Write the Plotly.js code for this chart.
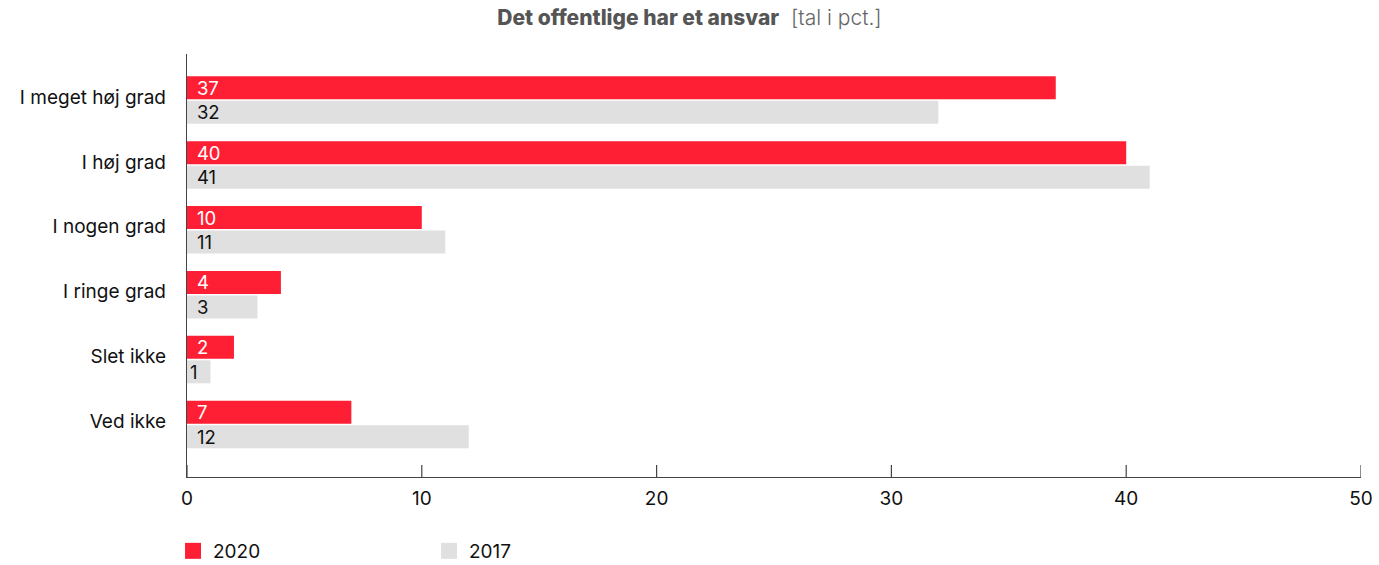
<!DOCTYPE html>
<html>
<head>
<meta charset="utf-8">
<script src="https://cdn.plot.ly/plotly-3.0.1.min.js"></script>
<style>html,body{margin:0;padding:0;background:#fff;}#chart{width:1379px;height:565px;}</style>
</head>
<body>
<div id="chart"></div>
<script>
const categories = ["I meget høj grad", "I høj grad", "I nogen grad", "I ringe grad", "Slet ikke", "Ved ikke"];
const values2020 = [37, 40, 10, 4, 2, 7];
const values2017 = [32, 41, 11, 3, 1, 12];
const seriesNames = ["2020", "2017"];
const xTicks = [0, 10, 20, 30, 40, 50];

const FONT = "Inter, 'Open Sans', sans-serif";
const RED = "#FF1F35";
const GREY = "#E0E0E0";
const PAD = "\u00A0\u200A";

const traces = [
  {
    type: "bar", orientation: "h", name: seriesNames[0], showlegend: false,
    y: categories, x: values2020, text: values2020.map(v => PAD + v),
    textposition: "inside", insidetextanchor: "start", constraintext: "none", textangle: 0,
    textfont: {family: FONT, size: 18.5, color: "#ffffff"},
    marker: {color: RED}, hoverinfo: "x+name"
  },
  {
    type: "bar", orientation: "h", name: seriesNames[1], showlegend: false,
    y: categories, x: values2017, text: values2017.map(v => (v < 2 ? "" : PAD) + v),
    textposition: "inside", insidetextanchor: "start", constraintext: "none", textangle: 0,
    textfont: {family: FONT, size: 18.5, color: "#111111"},
    marker: {color: GREY}, hoverinfo: "x+name"
  },
  {
    type: "scatter", mode: "markers", name: seriesNames[0], x: [null], y: [null],
    marker: {symbol: "square", size: 16, color: RED}, hoverinfo: "skip"
  },
  {
    type: "scatter", mode: "markers", name: seriesNames[1], x: [null], y: [null],
    marker: {symbol: "square", size: 16, color: GREY}, hoverinfo: "skip"
  }
];

const tickShapes = xTicks.map(t => ({
  type: "line", xref: "x", yref: "paper", x0: t, x1: t, y0: 0, y1: 12 / 423,
  line: {color: "#444444", width: 1.2}, layer: "above"
}));

const layout = {
  width: 1379, height: 565,
  margin: {l: 187, r: 18, t: 54, b: 88},
  paper_bgcolor: "#ffffff", plot_bgcolor: "#ffffff",
  font: {family: FONT, size: 19, color: "#111111"},
  title: {
    text: "<span style='font-weight:800'>Det offentlige har et ansvar</span>  <span style='font-weight:300;color:#666'>[tal i pct.]</span>",
    font: {family: FONT, size: 21, color: "#555555"},
    x: 0.5, xanchor: "center", y: 0.968, yanchor: "middle", xref: "container", yref: "container"
  },
  barmode: "group", bargap: 0.245, bargroupgap: 0.06,
  shapes: tickShapes,
  xaxis: {
    range: [0, 50], tickmode: "array", tickvals: xTicks, ticktext: xTicks.map(String),
    ticks: "",
    showline: true, linecolor: "#444444", linewidth: 1.2,
    showgrid: false, zeroline: false, showticklabels: true,
    tickfont: {family: FONT, size: 19, color: "#111"},
    ticklabelstandoff: 4
  },
  yaxis: {
    type: "category", range: [5.81, -0.71],
    showline: true, linecolor: "#444444", linewidth: 1.2,
    showgrid: false, zeroline: false, ticks: "",
    tickfont: {family: FONT, size: 19, color: "#111"},
    ticklabelstandoff: 16, ticklabelshift: 3
  },
  showlegend: true,
  legend: {
    orientation: "h", x: -0.0119, xanchor: "left", xref: "paper",
    y: 14 / 565, yanchor: "middle", yref: "container",
    entrywidth: 211, entrywidthmode: "pixels",
    font: {family: FONT, size: 19, color: "#111"},
    itemclick: false, itemdoubleclick: false
  }
};

Plotly.newPlot("chart", traces, layout, {displayModeBar: false, staticPlot: true});
</script>
</body>
</html>
